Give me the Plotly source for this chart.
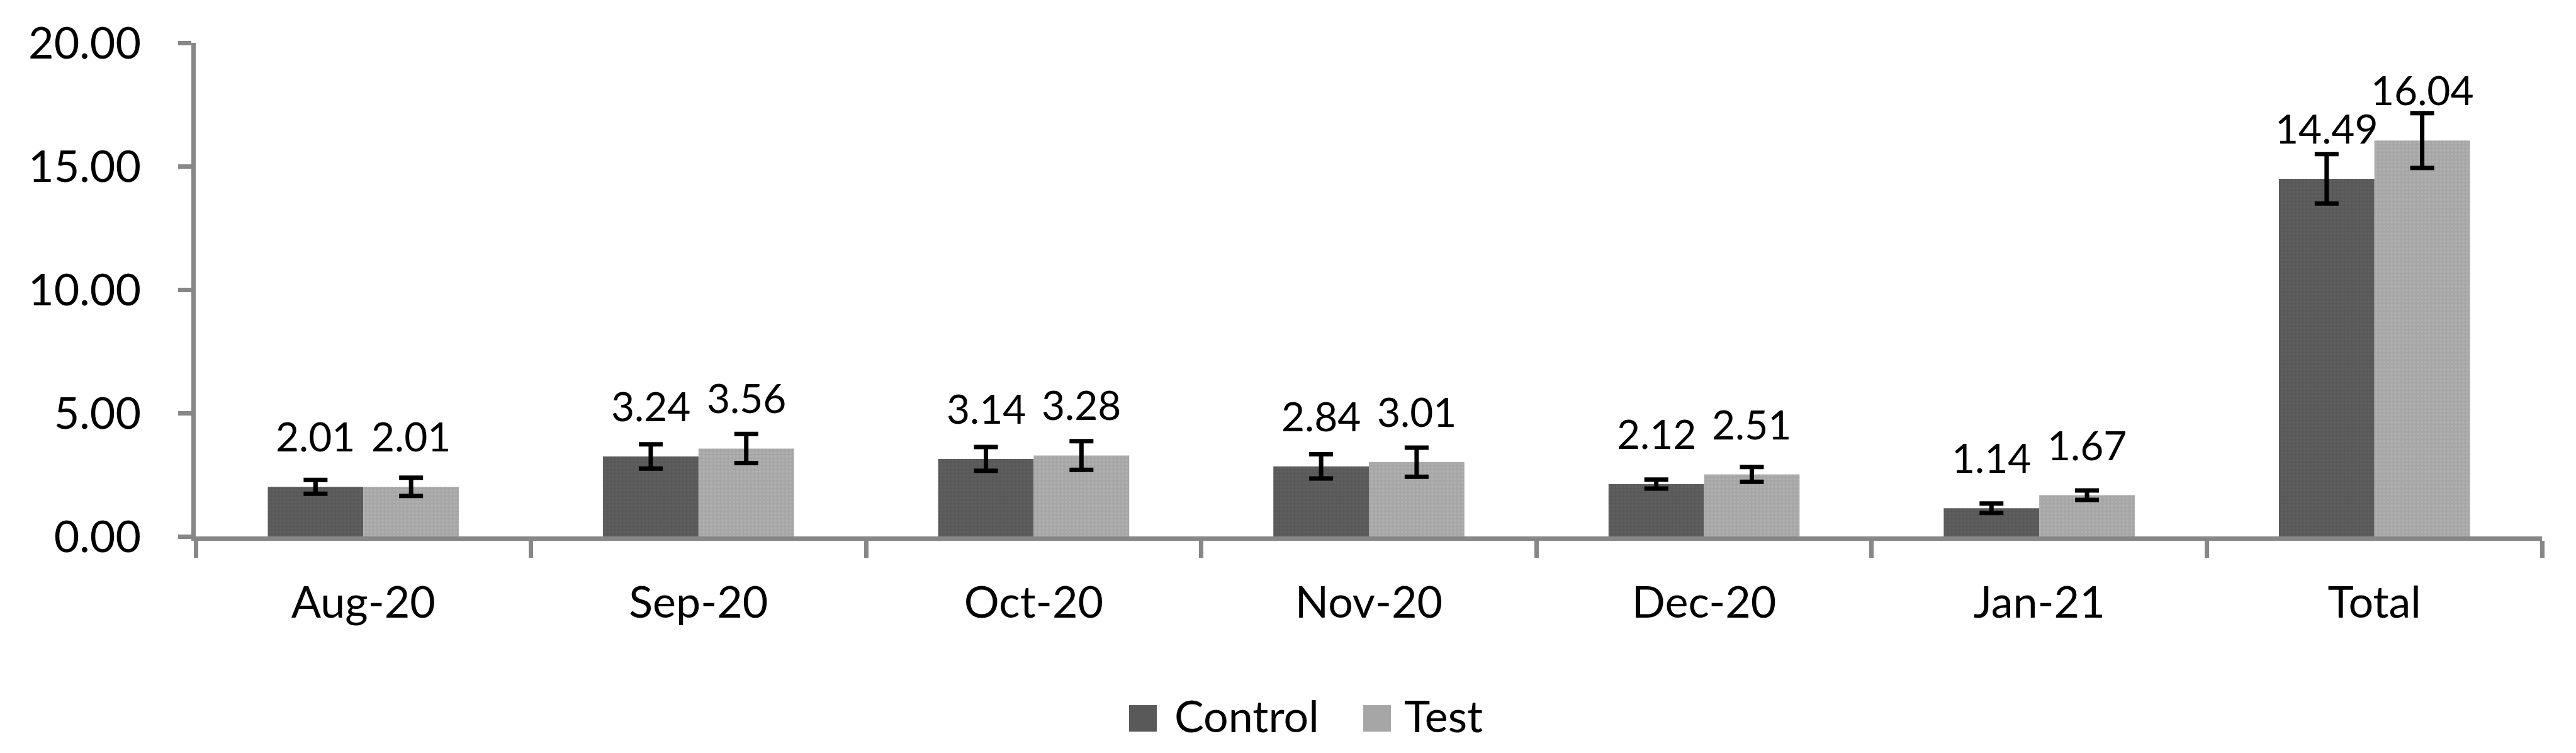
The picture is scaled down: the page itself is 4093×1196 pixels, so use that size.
import plotly.graph_objects as go

categories = ["Aug-20", "Sep-20", "Oct-20", "Nov-20", "Dec-20", "Jan-21", "Total"]
series_names = ["Control", "Test"]
control_values = [2.01, 3.24, 3.14, 2.84, 2.12, 1.14, 14.49]
test_values = [2.01, 3.56, 3.28, 3.01, 2.51, 1.67, 16.04]
control_err = [0.28, 0.49, 0.48, 0.49, 0.18, 0.19, 1.00]
test_err = [0.37, 0.59, 0.58, 0.59, 0.30, 0.19, 1.11]
y_ticks = [0, 5, 10, 15, 20]

colors = ["#595959", "#a6a6a6"]
pattern_fg = ["#666666", "#b9b9b9"]
FONT = "Lato"
AXIS_COLOR = "#878787"
BARGAP = 0.43

W, H = 4093, 1196
ML, MR, MT, MB = 303, 62, 60, 352
PW, PH = W - ML - MR, H - MT - MB

fig = go.Figure()
for name, vals, errs, col, fg in [
    (series_names[0], control_values, control_err, colors[0], pattern_fg[0]),
    (series_names[1], test_values, test_err, colors[1], pattern_fg[1]),
]:
    fig.add_trace(go.Bar(
        name=name, x=categories, y=vals,
        marker=dict(color=col, line=dict(width=0),
                    pattern=dict(shape=".", fgcolor=fg, bgcolor=col, size=6, solidity=0.35)),
        error_y=dict(type="data", array=errs, visible=True,
                     color="black", thickness=7, width=19),
        showlegend=False,
    ))

# data labels above each bar
half = (1 - BARGAP) / 4
annotations = []
for s, vals in enumerate([control_values, test_values]):
    off = -half if s == 0 else half
    for i, v in enumerate(vals):
        annotations.append(dict(
            x=i + off, y=v, xref="x", yref="y", text=f"{v:.2f}",
            showarrow=False, yanchor="bottom", xanchor="center", yshift=40,
            font=dict(family=FONT, size=64, color="black"),
        ))

# manual legend (large swatches)
def px_x(p):
    return (p - ML) / PW

def px_y(p):
    return (H - MB - p) / PH

shapes = []
legend_items = [(1786, 1830, 1856), (2158, 2202, 2221)]
for (x0, x1, tx), name, col in zip(legend_items, series_names, colors):
    shapes.append(dict(type="rect", xref="paper", yref="paper",
                       x0=px_x(x0), x1=px_x(x1), y0=px_y(1154), y1=px_y(1112),
                       fillcolor=col, line=dict(width=0)))
    annotations.append(dict(x=px_x(tx), y=px_y(1128), xref="paper", yref="paper",
                            text=name, showarrow=False, xanchor="left", yanchor="middle",
                            font=dict(family=FONT, size=70, color="black")))

fig.update_layout(
    width=W, height=H,
    margin=dict(l=ML, r=MR, t=MT, b=MB, pad=0),
    paper_bgcolor="white", plot_bgcolor="white",
    barmode="group", bargap=BARGAP, bargroupgap=0,
    annotations=annotations, shapes=shapes,
    font=dict(family=FONT, color="black"),
)
fig.update_xaxes(
    type="category", showline=True, linecolor=AXIS_COLOR, linewidth=7,
    ticks="outside", tickson="boundaries", ticklen=27, tickwidth=7, tickcolor=AXIS_COLOR,
    tickfont=dict(family=FONT, size=70, color="black"), ticklabelstandoff=38,
    showgrid=False, zeroline=False,
)
fig.update_yaxes(
    range=[0, 20], tickvals=y_ticks, tickformat=".2f",
    showline=True, linecolor=AXIS_COLOR, linewidth=7,
    ticks="outside", ticklen=21, tickwidth=7, tickcolor=AXIS_COLOR,
    tickfont=dict(family=FONT, size=70, color="black"), ticklabelstandoff=45,
    showgrid=False, zeroline=False,
)

fig.write_html("out.html")
